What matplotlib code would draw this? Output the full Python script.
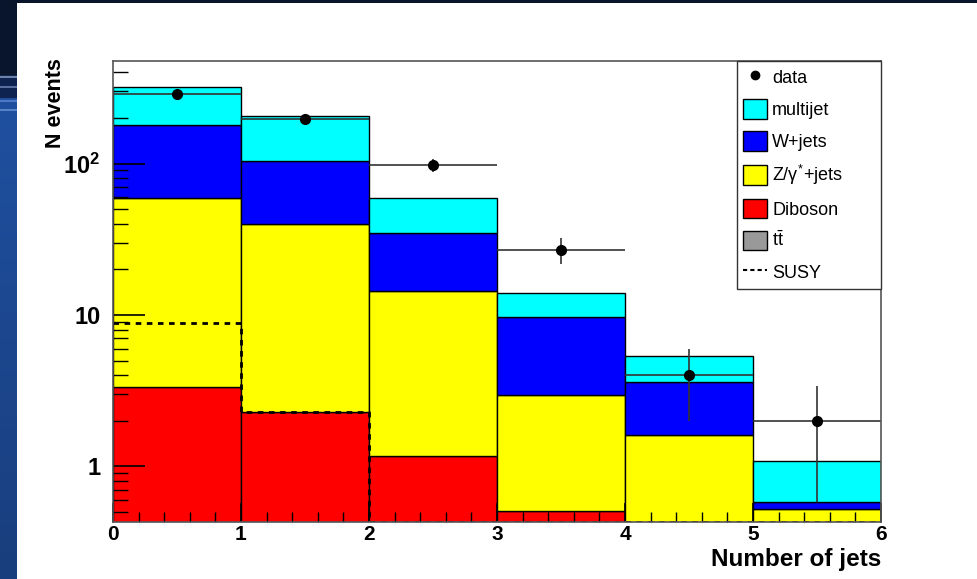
import numpy as np
import matplotlib.pyplot as plt
from matplotlib.patches import Patch, Rectangle
from matplotlib.lines import Line2D

plt.rcParams['font.family'] = ['Liberation Sans', 'DejaVu Sans']
plt.rcParams['mathtext.fontset'] = 'custom'
plt.rcParams['mathtext.rm'] = 'Liberation Sans'
plt.rcParams['mathtext.it'] = 'Liberation Sans'
plt.rcParams['mathtext.bf'] = 'Liberation Sans:bold'

# jet multiplicity bins 0..6
edges = [0, 1, 2, 3, 4, 5, 6]
centers = [0.5, 1.5, 2.5, 3.5, 4.5, 5.5]

# expected events per bin, stacked from bottom to top
ttbar = [0.02, 0.03, 0.04, 0.03, 0.02, 0.01]
diboson = [3.34, 2.25, 1.13, 0.48, 0.2, 0.1]
zjets = [56.0, 37.6, 13.2, 2.46, 1.39, 0.41]
wjets = [119.6, 64.1, 20.4, 6.73, 2.02, 0.06]
multijet = [139.0, 102.0, 24.4, 4.3, 1.71, 0.5]
susy = [8.8, 2.28, 0.0, 0.0, 0.0, 0.0]

data = [288, 197, 98, 27, 4, 2]

ymin, ymax = 0.43, 475

fig = plt.figure(figsize=(9.78, 5.79), dpi=100)
fig.patch.set_facecolor('#08152b')

# slide background: white panel and blue strip on the left
fig.add_artist(Rectangle((17 / 978, 0), 1, 1 - 3 / 579, transform=fig.transFigure,
                         facecolor='white', edgecolor='none', zorder=0))
strip = fig.add_axes([0, 0, 17 / 978, 1 - 3 / 579], zorder=0)
n = 576
grad = np.zeros((n, 1, 3))
top = np.array([8, 21, 43]) / 255
blue1 = np.array([31, 80, 160]) / 255
blue2 = np.array([25, 62, 125]) / 255
for i in range(n):
    if i < 72:
        grad[i, 0] = top
    elif i < 95:
        grad[i, 0] = np.array([14, 35, 80]) / 255
    else:
        t = (i - 95) / (n - 95)
        grad[i, 0] = blue1 * (1 - t) + blue2 * t
for row, c in [(73, (110, 130, 170)), (83, (90, 110, 160)), (97, (80, 120, 200)), (106, (90, 130, 200))]:
    grad[row:row + 2, 0] = np.array(c) / 255
strip.imshow(grad, aspect='auto', interpolation='bilinear')
strip.axis('off')

ax = fig.add_axes([113 / 978, 1 - 522 / 579, 768 / 978, 461 / 579])
ax.set_yscale('log')
ax.set_axisbelow(False)

layers = [
    (ttbar, '#999999', r't$\bar{\mathrm{t}}$'),
    (diboson, '#ff0000', 'Diboson'),
    (zjets, '#ffff00', r'Z/$\gamma^{*}$+jets'),
    (wjets, '#0000ff', 'W+jets'),
    (multijet, '#00ffff', 'multijet'),
]
bottom = np.zeros(len(centers))
for vals, col, lab in layers:
    ax.bar(edges[:-1], vals, width=1, align='edge', bottom=bottom, color=col,
           edgecolor='black', linewidth=1.0, zorder=1)
    bottom = bottom + np.array(vals)

# SUSY signal, drawn at the frame floor where it is below range
susy_draw = np.clip(susy, ymin * 1.005, None)
ax.step(edges, list(susy_draw) + [susy_draw[-1]], where='post', color='black',
        linestyle=(0, (2, 2)), linewidth=2, zorder=3)

ax.errorbar(centers, data, xerr=0.5, yerr=np.sqrt(data), fmt='o', color='black',
            ecolor='#333333', elinewidth=1.2, markersize=7, capsize=0, zorder=4)

ax.set_xlim(0, 6)
ax.set_ylim(ymin, ymax)

for s in ax.spines.values():
    s.set_color('#555555')
    s.set_linewidth(1.2)
    s.set_zorder(5)

ax.set_xticks(range(7))
ax.set_xticks(np.arange(0, 6.01, 0.2), minor=True)
ax.set_yticks([1, 10, 100])
ax.set_yticklabels(['1', '10', r'10$^{\mathbf{2}}$'])
ax.tick_params(axis='both', which='both', direction='in', top=False, right=False,
               color='black')
ax.tick_params(axis='y', which='major', length=23, width=1.2, pad=9, labelsize=17)
ax.tick_params(axis='y', which='minor', length=11, width=1.0)
ax.tick_params(axis='x', which='major', length=14, width=1.2, pad=2, labelsize=15)
ax.tick_params(axis='x', which='minor', length=7, width=1.0)
for lab in ax.get_xticklabels() + ax.get_yticklabels():
    lab.set_fontweight('bold')

ax.set_xlabel('Number of jets', fontsize=17.5, fontweight='bold', ha='right')
ax.xaxis.set_label_coords(1.0, -0.056)
ax.set_ylabel('N events', fontsize=15.5, fontweight='bold', ha='right')
ax.yaxis.set_label_coords(-0.061, 1.006)

handles = [
    Line2D([], [], marker='o', color='black', linestyle='none', markersize=6),
    Patch(facecolor='#00ffff', edgecolor='black'),
    Patch(facecolor='#0000ff', edgecolor='black'),
    Patch(facecolor='#ffff00', edgecolor='black'),
    Patch(facecolor='#ff0000', edgecolor='black'),
    Patch(facecolor='#999999', edgecolor='black'),
    Line2D([], [], color='black', linestyle=(0, (2, 1.5)), linewidth=1.5),
]
labels = ['data', 'multijet', 'W+jets', r'Z/$\gamma^{*}$+jets', 'Diboson',
          r't$\bar{\mathrm{t}}$', 'SUSY']
x0 = (737 - 113) / 768
leg = ax.legend(handles, labels, loc='upper left', bbox_to_anchor=(x0, 0, 1 - x0, 1.0),
                mode='expand', borderaxespad=0, fontsize=13, frameon=True,
                fancybox=False, edgecolor='#333333', framealpha=1,
                handlelength=1.3, handleheight=1.3, handletextpad=0.3,
                labelspacing=0.66, borderpad=0.35)
leg.get_frame().set_linewidth(1.0)
leg.set_zorder(7)

fig.savefig('out.png', dpi=100, facecolor=fig.get_facecolor())
